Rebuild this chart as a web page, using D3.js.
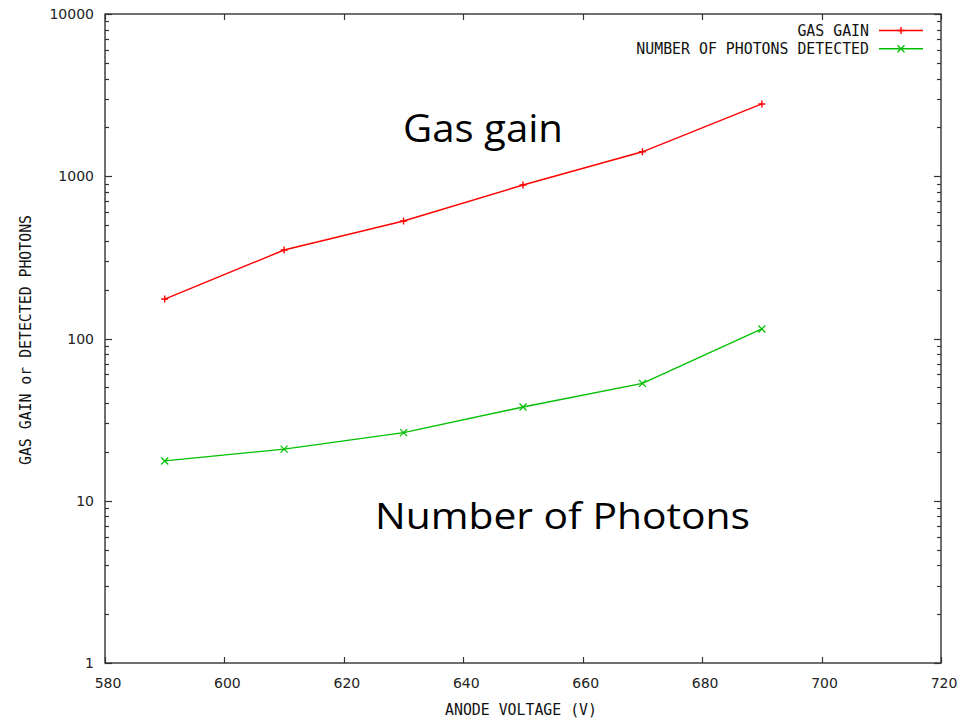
<!DOCTYPE html>
<html>
<head>
<meta charset="utf-8">
<script src="https://cdn.jsdelivr.net/npm/d3@7"></script>
<style>
  html, body { margin: 0; padding: 0; background: #fff; }
  svg { display: block; }
  .mono { font-family: "DejaVu Sans Mono", "Liberation Mono", monospace; }
  .tick-label { font-family: "DejaVu Sans", sans-serif; font-size: 14px; fill: #222; }
  .note { font-family: "Open Sans", "Liberation Sans", sans-serif; fill: #000; }
</style>
</head>
<body>
<script>
// Anode voltage (V) at which the measurements were taken
const voltages = [590, 610, 630, 650, 670, 690];
// Measured gas gain
const gasGain = [175, 351, 530, 883, 1415, 2790];
// Number of photons detected
const photons = [17.6, 20.8, 26.3, 37.8, 52.9, 114.5];

const xTicks = [580, 600, 620, 640, 660, 680, 700, 720];
const yTicks = [1, 10, 100, 1000, 10000];

const W = 967, H = 720;
const margin = { left: 105, right: 26, top: 14, bottom: 57 };

const svg = d3.select("body").append("svg")
  .attr("width", W).attr("height", H);

const x = d3.scaleLinear().domain([580, 720]).range([margin.left, W - margin.right]);
const y = d3.scaleLog().domain([1, 10000]).range([H - margin.bottom, margin.top]);

const x0 = x.range()[0], x1 = x.range()[1];
const y0 = y.range()[0], y1 = y.range()[1];

const axisColor = "#333";
const g = svg.append("g");

// Frame
g.append("rect")
  .attr("x", x0).attr("y", y1)
  .attr("width", x1 - x0).attr("height", y0 - y1)
  .attr("fill", "none").attr("stroke", axisColor).attr("stroke-width", 1.4);

// Y ticks: major at decades, minor at 2..9, mirrored on the right side
const minorY = [];
for (let d = 1; d < 10000; d *= 10) for (let k = 2; k <= 9; k++) minorY.push(d * k);

const tickG = g.append("g").attr("stroke", axisColor).attr("stroke-width", 1.2);
yTicks.forEach(v => {
  const yy = Math.round(y(v)) + 0.5;
  tickG.append("line").attr("x1", x0).attr("x2", x0 + 7).attr("y1", yy).attr("y2", yy);
  tickG.append("line").attr("x1", x1).attr("x2", x1 - 7).attr("y1", yy).attr("y2", yy);
});
minorY.forEach(v => {
  const yy = Math.round(y(v)) + 0.5;
  tickG.append("line").attr("x1", x0).attr("x2", x0 + 4).attr("y1", yy).attr("y2", yy);
  tickG.append("line").attr("x1", x1).attr("x2", x1 - 4).attr("y1", yy).attr("y2", yy);
});
// X ticks, mirrored on top
xTicks.forEach(v => {
  const xx = Math.round(x(v)) + 0.5;
  tickG.append("line").attr("x1", xx).attr("x2", xx).attr("y1", y0).attr("y2", y0 - 6);
  tickG.append("line").attr("x1", xx).attr("x2", xx).attr("y1", y1).attr("y2", y1 + 6);
});

// Tick labels
g.selectAll(".ylab").data(yTicks).enter().append("text")
  .attr("class", "tick-label")
  .attr("x", x0 - 11)
  .attr("y", d => y(d) + 5)
  .attr("text-anchor", "end")
  .text(d => d);

g.selectAll(".xlab").data(xTicks).enter().append("text")
  .attr("class", "tick-label")
  .attr("x", d => x(d) + 3)
  .attr("y", y0 + 25)
  .attr("text-anchor", "middle")
  .text(d => d);

// Axis titles
g.append("text").attr("class", "mono")
  .attr("x", (x0 + x1) / 2 - 2).attr("y", 715)
  .attr("text-anchor", "middle")
  .attr("font-size", 15).attr("fill", "#111")
  .attr("textLength", 152).attr("lengthAdjust", "spacingAndGlyphs")
  .text("ANODE VOLTAGE (V)");

g.append("text").attr("class", "mono")
  .attr("transform", "translate(31,340) rotate(-90)")
  .attr("text-anchor", "middle")
  .attr("font-size", 15).attr("fill", "#111")
  .attr("textLength", 250).attr("lengthAdjust", "spacingAndGlyphs")
  .text("GAS GAIN or DETECTED PHOTONS");

// Series
const series = [
  { name: "GAS GAIN", values: gasGain, color: "#ff0000", marker: "plus" },
  { name: "NUMBER OF PHOTONS DETECTED", values: photons, color: "#00c000", marker: "cross" }
];

const line = d3.line().x(d => x(d[0])).y(d => y(d[1]));

function drawMarker(sel, type, cx, cy, color) {
  const r = 3.5;
  if (type === "plus") {
    sel.append("path")
      .attr("d", `M${cx - r},${cy}H${cx + r}M${cx},${cy - r}V${cy + r}`)
      .attr("stroke", color).attr("stroke-width", 1.4).attr("fill", "none");
  } else {
    sel.append("path")
      .attr("d", `M${cx - r},${cy - r}L${cx + r},${cy + r}M${cx - r},${cy + r}L${cx + r},${cy - r}`)
      .attr("stroke", color).attr("stroke-width", 1.3).attr("fill", "none");
  }
}

series.forEach((s, i) => {
  const pts = voltages.map((v, j) => [v, s.values[j]]);
  const sg = g.append("g");
  sg.append("path").datum(pts)
    .attr("d", line)
    .attr("fill", "none").attr("stroke", s.color).attr("stroke-width", 1.4);
  pts.forEach(p => drawMarker(sg, s.marker, x(p[0]), y(p[1]), s.color));

  // Legend entry
  const ly = 30.5 + i * 18.3;
  g.append("text").attr("class", "mono")
    .attr("x", 869).attr("y", ly + 5.5)
    .attr("text-anchor", "end")
    .attr("font-size", 15).attr("fill", "#111")
    .attr("textLength", s.name.length * 8.95).attr("lengthAdjust", "spacingAndGlyphs")
    .text(s.name);
  g.append("line")
    .attr("x1", 879).attr("x2", 923).attr("y1", ly).attr("y2", ly)
    .attr("stroke", s.color).attr("stroke-width", 1.4);
  drawMarker(g, s.marker, 901, ly, s.color);
});

// Annotations
g.append("text").attr("class", "note")
  .attr("x", 403).attr("y", 142)
  .attr("font-size", 39)
  .attr("textLength", 160).attr("lengthAdjust", "spacingAndGlyphs")
  .text("Gas gain");

g.append("text").attr("class", "note")
  .attr("x", 375).attr("y", 529)
  .attr("font-size", 37)
  .attr("textLength", 375).attr("lengthAdjust", "spacingAndGlyphs")
  .text("Number of Photons");
</script>
</body>
</html>
